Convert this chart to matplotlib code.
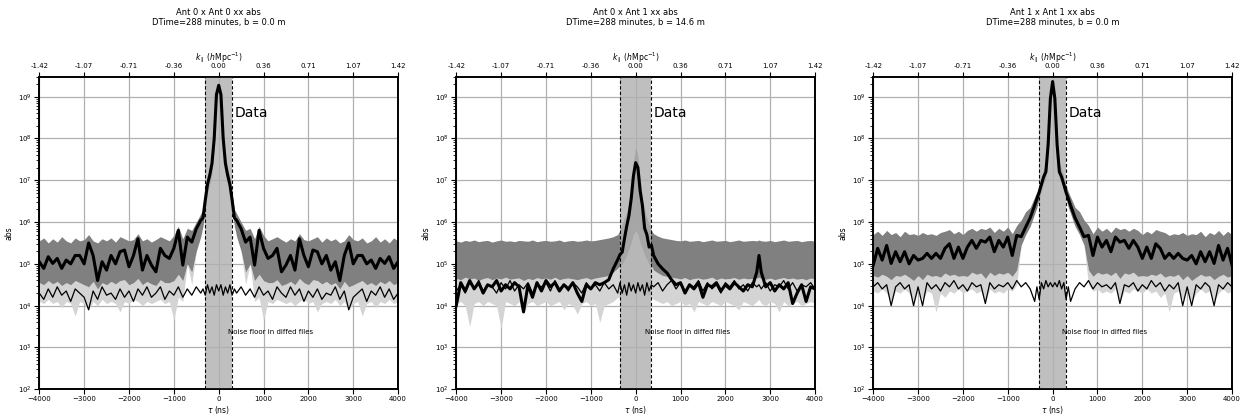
import numpy as np
import matplotlib
matplotlib.use("Agg")
import matplotlib.pyplot as plt

# delay grid (ns): 100 ns steps in the wings, 50 ns steps across the peak
tau = np.concatenate([np.arange(-4000, -399, 100),
                      np.arange(-350, 351, 50),
                      np.arange(400, 4001, 100)])
# the cross-correlation gets one extra sample on its bump at +2750 ns
tau_x = np.sort(np.append(tau, 2750))

k_labels = ['-1.42', '-1.07', '-0.71', '-0.36', '0.00', '0.36', '0.71', '1.07', '1.42']
titles = ['Ant 0 x Ant 0 xx abs\nDTime=288 minutes, b = 0.0 m',
          'Ant 0 x Ant 1 xx abs\nDTime=288 minutes, b = 14.6 m',
          'Ant 1 x Ant 1 xx abs\nDTime=288 minutes, b = 0.0 m']
horizons = [300, 349, 300]

# all values are log10(abs)
# --- Ant 0 x Ant 0 ---
a00_mean = [5.05, 4.89, 5.17, 5.01, 5.13, 4.89, 5.09, 5.00, 5.20, 5.20, 5.00, 5.50, 5.20, 4.60, 5.05, 4.85, 5.20, 5.00, 5.29,
            5.33, 4.93, 5.20, 5.60, 4.85, 5.20, 4.97, 4.81, 5.37, 5.20, 5.13, 5.37, 5.80, 4.97, 5.64, 5.52, 5.84, 6.04,
            6.10, 6.52, 6.90, 7.12, 7.40, 8.00, 9.05, 9.27, 9.05, 8.00, 7.40, 7.12, 6.90, 6.52, 6.10,
            6.04, 5.84, 5.52, 5.64, 4.97, 5.80, 5.37, 5.13, 5.20, 5.37, 4.81, 4.97, 5.20, 4.85, 5.60, 5.20, 4.93, 5.33,
            5.29, 5.00, 5.20, 4.85, 5.05, 4.60, 5.20, 5.50, 5.00, 5.20, 5.20, 5.00, 5.09, 4.89, 5.13, 5.01, 5.17, 4.89, 5.05]
a00_noise = [4.30, 4.15, 4.40, 4.20, 4.45, 4.25, 4.35, 4.10, 4.40, 4.30, 4.20, 3.90, 4.35, 4.15, 4.45, 4.25, 4.30, 4.15, 4.40,
             4.20, 4.35, 4.10, 4.40, 4.25, 4.45, 4.20, 4.30, 4.45, 4.15, 4.35, 4.25, 4.45, 4.20, 4.40, 4.25, 4.45, 4.30,
             4.40, 4.25, 4.50, 4.30, 4.45, 4.25, 4.50, 4.35, 4.50, 4.25, 4.45, 4.30, 4.50, 4.25, 4.40,
             4.30, 4.45, 4.25, 4.40, 4.20, 4.45, 4.25, 4.35, 4.15, 4.45, 4.30, 4.20, 4.45, 4.25, 4.40, 4.10, 4.35, 4.20,
             4.40, 4.15, 4.30, 4.25, 4.45, 4.15, 4.35, 3.90, 4.20, 4.30, 4.40, 4.10, 4.35, 4.25, 4.45, 4.20, 4.40, 4.15, 4.30]
a00_hi = [5.55, 5.62, 5.50, 5.60, 5.52, 5.65, 5.55, 5.50, 5.62, 5.55, 5.58, 5.70, 5.55, 5.50, 5.60, 5.55, 5.62, 5.52, 5.65,
          5.60, 5.55, 5.58, 5.72, 5.55, 5.60, 5.52, 5.58, 5.65, 5.60, 5.55, 5.68, 5.90, 5.60, 5.85, 5.80, 6.00, 6.20,
          6.30, 6.65, 7.05, 7.30, 7.60, 8.20, 9.15, 9.35, 9.15, 8.20, 7.60, 7.30, 7.05, 6.65, 6.30,
          6.20, 6.00, 5.80, 5.85, 5.60, 5.90, 5.68, 5.55, 5.60, 5.65, 5.58, 5.52, 5.60, 5.55, 5.72, 5.58, 5.55, 5.60,
          5.65, 5.52, 5.62, 5.55, 5.60, 5.50, 5.55, 5.70, 5.58, 5.55, 5.62, 5.50, 5.55, 5.65, 5.52, 5.60, 5.50, 5.62, 5.55]
a00_lo = [4.55, 4.50, 4.60, 4.52, 4.58, 4.48, 4.55, 4.50, 4.60, 4.55, 4.50, 4.45, 4.58, 4.40, 4.55, 4.50, 4.58, 4.52, 4.60,
          4.62, 4.50, 4.55, 4.65, 4.50, 4.58, 4.52, 4.48, 4.62, 4.55, 4.55, 4.60, 4.75, 4.60, 5.00, 4.80, 5.30, 5.65,
          5.90, 6.30, 6.70, 6.90, 7.15, 7.75, 8.85, 9.18, 8.85, 7.75, 7.15, 6.90, 6.70, 6.30, 5.90,
          5.65, 5.30, 4.80, 5.00, 4.60, 4.75, 4.60, 4.55, 4.55, 4.62, 4.48, 4.52, 4.58, 4.50, 4.65, 4.55, 4.50, 4.62,
          4.60, 4.52, 4.58, 4.50, 4.55, 4.40, 4.58, 4.45, 4.50, 4.55, 4.60, 4.50, 4.55, 4.48, 4.58, 4.52, 4.60, 4.50, 4.55]
a00_floor = [4.10, 4.05, 4.15, 4.05, 4.10, 3.95, 4.10, 4.05, 3.75, 4.10, 4.05, 3.90, 4.10, 4.00, 4.15, 4.05, 4.10, 4.05, 3.85,
             4.10, 4.05, 4.15, 4.10, 4.00, 4.10, 4.05, 4.10, 4.15, 4.05, 4.10, 3.65, 4.20, 4.10, 5.00, 4.50, 5.30, 5.65,
             5.90, 6.30, 6.70, 6.90, 7.15, 7.75, 8.85, 9.18, 8.85, 7.75, 7.15, 6.90, 6.70, 6.30, 5.90,
             5.65, 5.30, 4.50, 5.00, 4.10, 4.20, 3.65, 4.10, 4.05, 4.15, 4.10, 4.05, 4.10, 4.00, 4.10, 4.15, 4.05, 4.10,
             3.85, 4.05, 4.10, 4.05, 4.15, 4.00, 4.10, 3.90, 4.05, 4.10, 3.75, 4.05, 4.10, 3.95, 4.10, 4.05, 4.15, 4.05, 4.10]

# --- Ant 0 x Ant 1 ---
a01_mean = [4.00, 4.55, 4.35, 4.60, 4.40, 4.55, 4.30, 4.50, 4.45, 4.60, 4.35, 4.50, 4.40, 4.55, 4.45, 3.85, 4.50, 4.20, 4.55,
            4.35, 4.60, 4.45, 4.55, 4.35, 4.50, 4.40, 4.55, 4.30, 4.10, 4.50, 4.40, 4.55, 4.50, 4.55, 4.62, 4.88, 5.10,
            5.22, 5.28, 5.60, 5.90, 6.15, 6.55, 7.10, 7.42, 7.30, 6.75, 6.40, 5.85, 5.70, 5.40, 5.45,
            5.20, 5.00, 4.88, 4.78, 4.62, 4.50, 4.55, 4.30, 4.50, 4.40, 4.55, 4.20, 4.50, 4.45, 4.55, 4.35, 4.50, 4.40,
            4.55, 4.45, 4.35, 4.50, 4.45, 4.80, 5.20, 4.80, 4.45, 4.55, 4.35, 4.50, 4.40, 4.55, 4.05, 4.30, 4.50, 4.10,
            4.45, 4.40]
a01_noise = [4.35, 4.50, 4.30, 4.55, 4.40, 4.60, 4.35, 4.50, 4.45, 4.30, 4.55, 4.40, 4.60, 4.35, 4.50, 4.40, 4.55, 4.30, 4.50,
             4.45, 4.55, 4.35, 4.60, 4.40, 4.50, 4.35, 4.55, 4.45, 4.30, 4.55, 4.40, 4.50, 4.35, 4.55, 4.40, 4.50, 4.30,
             4.55, 4.30, 4.50, 4.25, 4.55, 4.35, 4.50, 4.30, 4.55, 4.35, 4.50, 4.25, 4.55, 4.35, 4.50,
             4.45, 4.55, 4.35, 4.50, 4.60, 4.40, 4.55, 4.35, 4.50, 4.45, 4.60, 4.35, 4.55, 4.40, 4.50, 4.30, 4.55, 4.45,
             4.60, 4.40, 4.50, 4.35, 4.55, 4.45, 4.50, 4.40, 4.55, 4.35, 4.50, 4.45, 4.60, 4.40, 4.55, 4.35, 4.50, 4.45,
             4.55, 4.40]
a01_hi = [5.55, 5.52, 5.56, 5.54, 5.57, 5.53, 5.55, 5.56, 5.52, 5.55, 5.57, 5.54, 5.55, 5.53, 5.56, 5.55, 5.54, 5.57, 5.53,
          5.55, 5.56, 5.54, 5.55, 5.57, 5.53, 5.55, 5.56, 5.54, 5.55, 5.57, 5.55, 5.56, 5.58, 5.60, 5.62, 5.65, 5.70,
          5.80, 5.95, 6.10, 6.25, 6.45, 6.90, 7.45, 7.80, 7.60, 7.05, 6.55, 6.30, 6.10, 5.95, 5.80,
          5.72, 5.66, 5.62, 5.60, 5.58, 5.56, 5.55, 5.57, 5.54, 5.55, 5.56, 5.53, 5.55, 5.57, 5.54, 5.55, 5.56, 5.53,
          5.55, 5.57, 5.54, 5.55, 5.56, 5.55, 5.57, 5.55, 5.54, 5.56, 5.53, 5.55, 5.57, 5.54, 5.55, 5.56, 5.53, 5.55,
          5.56, 5.54]
a01_lo = [4.65, 4.62, 4.68, 4.64, 4.66, 4.60, 4.65, 4.67, 4.62, 4.66, 4.64, 4.68, 4.63, 4.65, 4.66, 4.60, 4.65, 4.62, 4.67,
          4.64, 4.66, 4.63, 4.68, 4.62, 4.65, 4.66, 4.64, 4.62, 4.65, 4.67, 4.63, 4.66, 4.68, 4.70, 4.72, 4.80, 4.90,
          4.95, 5.00, 5.10, 5.20, 5.35, 5.50, 5.70, 5.80, 5.70, 5.50, 5.35, 5.20, 5.10, 5.00, 4.95,
          4.85, 4.78, 4.72, 4.70, 4.68, 4.66, 4.64, 4.67, 4.62, 4.65, 4.66, 4.63, 4.65, 4.68, 4.62, 4.66, 4.64, 4.65,
          4.67, 4.63, 4.66, 4.64, 4.65, 4.66, 4.68, 4.65, 4.63, 4.66, 4.62, 4.65, 4.67, 4.64, 4.66, 4.63, 4.65, 4.62,
          4.66, 4.64]
a01_floor = [4.05, 4.10, 4.00, 3.50, 4.05, 4.10, 4.00, 4.10, 4.05, 4.00, 3.45, 4.10, 4.05, 4.00, 4.10, 3.80, 4.05, 4.10, 4.00,
             4.05, 4.10, 4.00, 4.05, 4.10, 3.90, 4.05, 4.00, 3.80, 4.05, 4.10, 4.00, 4.05, 3.60, 4.00, 4.05, 4.10, 4.20,
             4.20, 4.25, 4.30, 4.35, 4.40, 4.45, 4.50, 4.50, 4.50, 4.45, 4.40, 4.35, 4.30, 4.25, 4.20,
             4.15, 4.10, 4.05, 4.10, 4.00, 4.05, 4.10, 4.00, 4.05, 3.85, 4.10, 4.05, 4.00, 4.10, 4.05, 4.00, 4.10, 4.05,
             4.00, 3.90, 4.10, 4.05, 4.00, 4.10, 4.15, 4.05, 4.00, 4.10, 4.05, 3.85, 4.10, 4.00, 4.05, 4.10, 4.00, 4.05,
             4.10, 4.05]

# --- Ant 1 x Ant 1 ---
a11_mean = [4.97, 5.37, 5.09, 5.44, 5.01, 5.29, 5.05, 5.29, 5.00, 5.20, 5.09, 5.13, 5.25, 5.13, 5.25, 5.13, 5.37, 5.48, 5.13,
            5.40, 5.13, 5.40, 5.56, 5.37, 5.56, 5.52, 5.64, 5.29, 5.56, 5.40, 5.64, 5.20, 5.68, 5.65, 5.88, 6.10, 6.40,
            6.56, 6.71, 6.90, 7.08, 7.20, 7.85, 8.95, 9.36, 8.95, 7.85, 7.20, 7.08, 6.90, 6.71, 6.56,
            6.40, 6.10, 5.88, 5.65, 5.68, 5.20, 5.64, 5.40, 5.56, 5.29, 5.64, 5.52, 5.56, 5.37, 5.56, 5.40, 5.13, 5.40,
            5.13, 5.48, 5.37, 5.13, 5.25, 5.13, 5.25, 5.13, 5.09, 5.20, 5.00, 5.29, 5.05, 5.29, 5.01, 5.44, 5.09, 5.37, 4.97]
a11_noise = [4.45, 4.55, 4.40, 4.50, 4.00, 4.45, 4.55, 4.40, 4.50, 4.00, 4.45, 4.00, 4.55, 4.40, 4.50, 4.35, 4.55, 4.45, 4.60,
             4.40, 4.50, 4.35, 4.55, 4.45, 4.50, 4.05, 4.55, 4.40, 4.50, 4.45, 4.55, 4.40, 4.60, 4.45, 4.55, 4.40, 4.10,
             4.45, 4.15, 4.55, 4.40, 4.60, 4.45, 4.55, 4.45, 4.55, 4.45, 4.60, 4.40, 4.55, 4.15, 4.45,
             4.10, 4.40, 4.55, 4.45, 4.60, 4.40, 4.55, 4.45, 4.50, 4.40, 4.55, 4.05, 4.50, 4.45, 4.55, 4.35, 4.50, 4.40,
             4.60, 4.45, 4.55, 4.35, 4.50, 4.40, 4.55, 4.00, 4.45, 4.00, 4.50, 4.40, 4.55, 4.45, 4.00, 4.50, 4.40, 4.55, 4.45]
a11_hi = [5.70, 5.78, 5.68, 5.80, 5.70, 5.75, 5.65, 5.78, 5.70, 5.72, 5.68, 5.75, 5.70, 5.72, 5.68, 5.75, 5.78, 5.82, 5.72,
          5.78, 5.70, 5.80, 5.85, 5.78, 5.85, 5.82, 5.88, 5.75, 5.85, 5.78, 5.88, 5.72, 5.92, 6.05, 6.25, 6.35, 6.60,
          6.72, 6.88, 7.08, 7.28, 7.42, 8.05, 9.08, 9.42, 9.08, 8.05, 7.42, 7.28, 7.08, 6.88, 6.72,
          6.60, 6.35, 6.25, 6.05, 5.92, 5.72, 5.88, 5.78, 5.85, 5.75, 5.88, 5.82, 5.85, 5.78, 5.85, 5.80, 5.70, 5.78,
          5.72, 5.82, 5.78, 5.75, 5.68, 5.72, 5.70, 5.75, 5.68, 5.72, 5.70, 5.78, 5.65, 5.75, 5.70, 5.80, 5.68, 5.78, 5.70]
a11_lo = [4.72, 4.68, 4.75, 4.70, 4.62, 4.72, 4.70, 4.75, 4.68, 4.60, 4.72, 4.62, 4.75, 4.70, 4.72, 4.68, 4.78, 4.72, 4.75,
          4.70, 4.72, 4.70, 4.80, 4.75, 4.78, 4.65, 4.80, 4.72, 4.78, 4.75, 4.80, 4.70, 4.85, 5.45, 5.70, 5.90, 6.20,
          6.35, 6.55, 6.75, 6.92, 7.05, 7.65, 8.80, 9.28, 8.80, 7.65, 7.05, 6.92, 6.75, 6.55, 6.35,
          6.20, 5.90, 5.70, 5.45, 4.85, 4.70, 4.80, 4.75, 4.78, 4.72, 4.80, 4.65, 4.78, 4.75, 4.80, 4.70, 4.72, 4.70,
          4.75, 4.72, 4.78, 4.68, 4.72, 4.70, 4.75, 4.62, 4.72, 4.60, 4.68, 4.75, 4.70, 4.72, 4.62, 4.70, 4.75, 4.68, 4.72]
a11_floor = [4.35, 4.30, 4.40, 4.30, 4.10, 4.35, 4.30, 4.40, 4.30, 4.10, 4.35, 4.15, 4.35, 4.30, 3.85, 4.30, 4.20, 4.35, 4.30,
             4.40, 4.30, 4.35, 4.40, 4.30, 4.35, 4.10, 4.40, 4.30, 4.35, 4.30, 4.40, 4.35, 4.50, 5.45, 5.70, 5.90, 6.20,
             6.35, 6.55, 6.75, 6.92, 7.05, 7.65, 8.80, 9.28, 8.80, 7.65, 7.05, 6.92, 6.75, 6.55, 6.35,
             6.20, 5.90, 5.70, 5.45, 4.50, 4.35, 4.40, 4.30, 4.35, 4.30, 4.40, 4.10, 4.35, 4.30, 4.40, 4.35, 4.30, 4.40,
             4.30, 4.35, 4.20, 4.30, 3.85, 4.30, 4.35, 4.15, 4.35, 4.10, 4.30, 4.40, 4.30, 4.35, 4.10, 4.30, 4.40, 4.30, 4.35]

panels = [
    (tau, a00_mean, a00_noise, a00_hi, a00_lo, a00_floor),
    (tau_x, a01_mean, a01_noise, a01_hi, a01_lo, a01_floor),
    (tau, a11_mean, a11_noise, a11_hi, a11_lo, a11_floor),
]

plt.rcParams['xtick.labelsize'] = 5
plt.rcParams['ytick.labelsize'] = 5
plt.rcParams['axes.labelsize'] = 5.5

fig, axes = plt.subplots(1, 3, figsize=(12.47, 4.19), dpi=100)
plt.subplots_adjust(left=0.0315, right=0.988, bottom=0.071, top=0.817, wspace=0.162)

for ax, (t, mean, noise, hi, lo, floor), horizon, title in zip(axes, panels, horizons, titles):
    mean, noise, hi, lo, floor = [10 ** np.array(v) for v in (mean, noise, hi, lo, floor)]

    # spread of the individual files: light lower fringe + dark bulk
    ax.fill_between(t, floor, lo, color='#d4d4d4', lw=0, zorder=2)
    ax.fill_between(t, lo, hi, color='#808080', lw=0, zorder=2)

    # horizon region
    ax.axvspan(-horizon, horizon, color='#b0b0b0', alpha=0.8, lw=0, zorder=3)
    ax.axvline(-horizon, color='k', ls=(0, (3, 2)), lw=0.8, zorder=4)
    ax.axvline(horizon, color='k', ls=(0, (3, 2)), lw=0.8, zorder=4)

    ax.plot(t, noise, color='k', lw=0.9, zorder=5)
    ax.plot(t, mean, color='k', lw=2.2, zorder=6)

    ax.set_yscale('log')
    ax.set_xlim(-4000, 4000)
    ax.set_ylim(1e2, 3e9)
    ax.set_xticks(np.arange(-4000, 4001, 1000))
    ax.tick_params(axis='x', pad=1.5)
    ax.tick_params(axis='y', pad=2)
    ax.grid(True, color='#b0b0b0', lw=0.9)
    ax.set_axisbelow(True)
    ax.set_xlabel(r'$\tau$ (ns)', labelpad=1)
    ax.set_ylabel('abs', labelpad=3)

    ax.text(horizon + 60, 10 ** 8.6, 'Data', fontsize=10, va='center', zorder=7)
    ax.text(200, 10 ** 3.36, 'Noise floor in diffed files', fontsize=5, va='center', zorder=7)
    ax.text(0.5, 1.19, title, transform=ax.transAxes, ha='center', va='center', fontsize=6)

    top = ax.twiny()
    top.set_xlim(-4000, 4000)
    top.set_xticks(np.arange(-4000, 4001, 1000))
    top.set_xticklabels(k_labels)
    top.tick_params(axis='x', pad=2)
    top.set_xlabel(r'$k_\parallel$ ($h$Mpc$^{-1}$)', labelpad=2)

    for a in (ax, top):
        for s in a.spines.values():
            s.set_linewidth(1.2)

fig.savefig('out.png', dpi=100)
